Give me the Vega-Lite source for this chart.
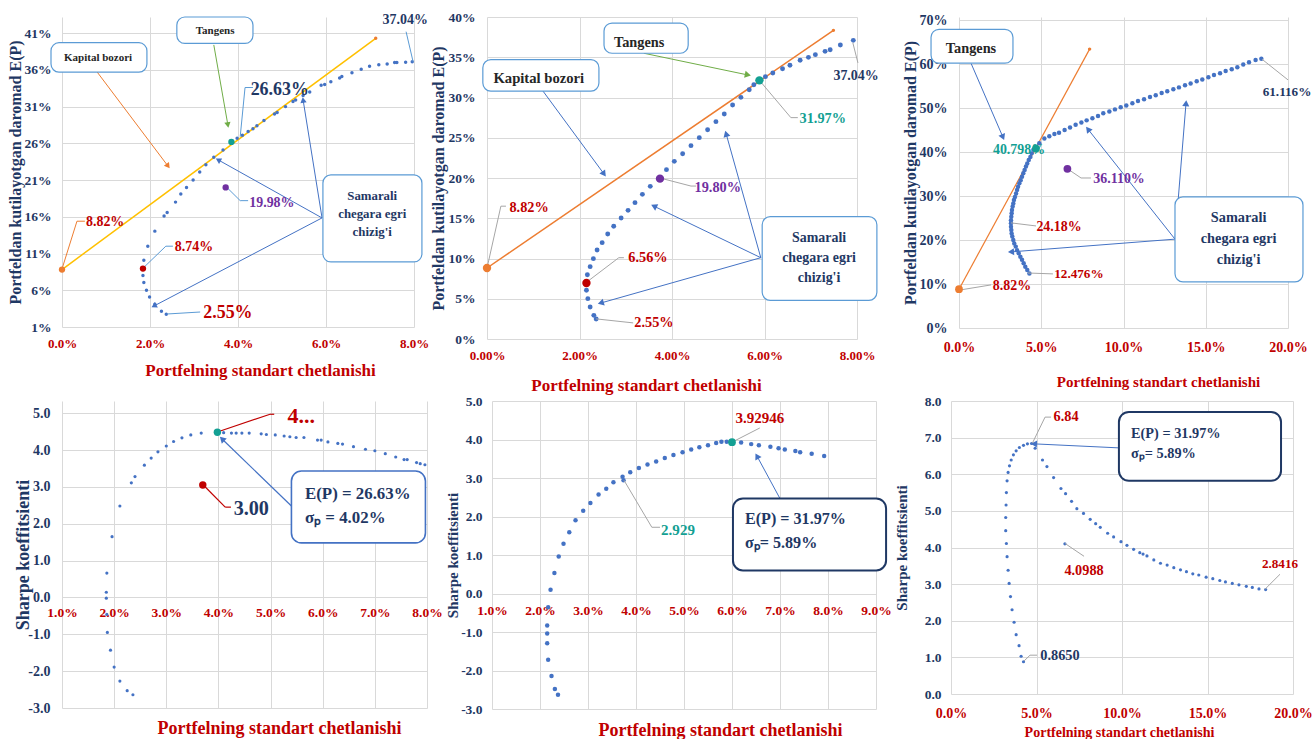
{
"$schema": "https://vega.github.io/schema/vega-lite/v6.json",
"padding": {"left": 7, "top": 10, "right": 0, "bottom": 0},
"background": "white",
"spacing": 1,
"config": {
  "font": "Liberation Serif",
  "view": {"stroke": null},
  "axis": {"grid": true, "gridColor": "#D9D9D9", "gridWidth": 1, "domain": false, "ticks": false, "labelFont": "Liberation Serif", "labelFontWeight": "bold", "titleFont": "Liberation Serif", "titleFontWeight": "bold", "labelOverlap": false, "labelBound": false, "labelFlush": false},
  "axisX": {"labelColor": "#C00000", "titleColor": "#C00000"},
  "axisY": {"labelColor": "#1F3864", "titleColor": "#1F3864"}
},
"datasets": {
"d1": [
{"k":"pt","x":2.37,"y":2.73},{"k":"pt","x":2.26,"y":3.14},{"k":"pt","x":2.11,"y":4.09},{"k":"pt","x":1.99,"y":5.09},{"k":"pt","x":1.92,"y":6.0},{"k":"pt","x":1.86,"y":7.05},{"k":"pt","x":1.84,"y":8.0},{"k":"pt","x":1.86,"y":10.1},{"k":"pt","x":1.95,"y":12.0},{"k":"pt","x":2.11,"y":14.05},{"k":"pt","x":2.32,"y":16.1},{"k":"pt","x":2.39,"y":16.6},{"k":"pt","x":2.58,"y":18.0},{"k":"pt","x":2.70,"y":19.1},{"k":"pt","x":2.83,"y":20.0},{"k":"pt","x":2.98,"y":21.0},{"k":"pt","x":3.13,"y":22.1},{"k":"pt","x":3.27,"y":23.1},{"k":"pt","x":3.45,"y":24.1},{"k":"pt","x":3.66,"y":25.1},{"k":"pt","x":3.98,"y":26.7},{"k":"pt","x":4.10,"y":27.1},{"k":"pt","x":4.23,"y":27.6},{"k":"pt","x":4.34,"y":28.0},{"k":"pt","x":4.43,"y":28.4},{"k":"pt","x":4.59,"y":29.1},{"k":"pt","x":4.83,"y":30.0},{"k":"pt","x":4.89,"y":30.2},{"k":"pt","x":5.08,"y":31.0},{"k":"pt","x":5.25,"y":31.7},{"k":"pt","x":5.31,"y":31.9},{"k":"pt","x":5.48,"y":32.5},{"k":"pt","x":5.63,"y":33.0},{"k":"pt","x":5.89,"y":33.9},{"k":"pt","x":5.97,"y":34.0},{"k":"pt","x":6.11,"y":34.4},{"k":"pt","x":6.31,"y":34.9},{"k":"pt","x":6.36,"y":35.1},{"k":"pt","x":6.59,"y":35.6},{"k":"pt","x":6.80,"y":36.1},{"k":"pt","x":6.99,"y":36.5},{"k":"pt","x":7.20,"y":36.7},{"k":"pt","x":7.39,"y":36.8},{"k":"pt","x":7.56,"y":37.0},{"k":"pt","x":7.61,"y":37.0},{"k":"pt","x":7.81,"y":37.05},{"k":"pt","x":7.96,"y":37.1},
{"k":"sp","x":1.84,"y":8.95,"c":"red"},{"k":"sp","x":3.72,"y":20.0,"c":"purple"},{"k":"sp","x":3.85,"y":26.2,"c":"teal"},{"k":"sp","x":0,"y":8.82,"c":"orange"},
{"k":"ln","x":0,"y":8.82},{"k":"ln","x":7.13,"y":40.3},
{"k":"bx","x":2.61,"x2":4.34,"y":39.6,"y2":43.2,"c":"lblue"},{"k":"bx","x":-0.25,"x2":1.93,"y":35.7,"y2":39.7,"c":"lblue"},{"k":"bx","x":5.93,"x2":8.18,"y":9.86,"y2":21.7,"c":"lblue"},
{"k":"tx","x":3.48,"y":41.3,"t":"Tangens","c":"dark","z":0},{"k":"tx","x":0.82,"y":37.6,"t":"Kapital bozori","c":"dark","z":0},
{"k":"tx","x":7.05,"y":18.85,"t":"Samarali","c":"navy","z":1},{"k":"tx","x":7.05,"y":16.4,"t":"chegara egri","c":"navy","z":1},{"k":"tx","x":7.05,"y":13.9,"t":"chizig'i","c":"navy","z":1},
{"k":"tx","x":4.95,"y":33.3,"t":"26.63%","c":"navy","z":3.8},{"k":"tx","x":7.8,"y":42.8,"t":"37.04%","c":"navy","z":1.6},{"k":"tx","x":0.98,"y":15.3,"t":"8.82%","c":"red","z":1.6},{"k":"tx","x":3.0,"y":11.9,"t":"8.74%","c":"red","z":1.6},{"k":"tx","x":4.77,"y":17.9,"t":"19.98%","c":"purple","z":1.6},{"k":"tx","x":3.77,"y":2.9,"t":"2.55%","c":"red","z":3.8},
{"k":"sg","x":4.05,"y":26.9,"x2":4.16,"y2":33.6,"c":"lblue"},{"k":"sg","x":4.16,"y":33.6,"x2":4.34,"y2":33.6,"c":"lblue"},{"k":"sg","x":7.98,"y":37.1,"x2":7.82,"y2":41.2,"c":"lblue"},{"k":"sg","x":0,"y":8.9,"x2":0.34,"y2":15.4,"c":"orange"},{"k":"sg","x":0.34,"y":15.4,"x2":0.52,"y2":15.4,"c":"orange"},{"k":"sg","x":1.84,"y":9.0,"x2":2.36,"y2":12.0,"c":"lblue"},{"k":"sg","x":2.36,"y":12.0,"x2":2.52,"y2":12.0,"c":"lblue"},{"k":"sg","x":3.73,"y":20.1,"x2":4.05,"y2":18.2,"c":"lblue"},{"k":"sg","x":4.05,"y":18.2,"x2":4.23,"y2":18.2,"c":"lblue"},{"k":"sg","x":2.39,"y":2.77,"x2":3.14,"y2":3.04,"c":"lblue"},
{"k":"sg","x":3.45,"y":39.4,"x2":3.77,"y2":28.5,"c":"green"},{"k":"sg","x":0.80,"y":35.7,"x2":2.41,"y2":22.9,"c":"orange"},{"k":"sg","x":5.91,"y":15.85,"x2":3.55,"y2":23.75,"c":"blue"},{"k":"sg","x":5.91,"y":15.85,"x2":5.48,"y2":31.9,"c":"blue"},{"k":"sg","x":5.91,"y":15.85,"x2":2.09,"y2":3.86,"c":"blue"},
{"k":"hd","x":3.77,"y":28.5,"a":170,"c":"green"},{"k":"hd","x":2.41,"y":22.9,"a":143,"c":"orange"},{"k":"hd","x":3.55,"y":23.75,"a":-61,"c":"blue"},{"k":"hd","x":5.48,"y":31.9,"a":-9,"c":"blue"},{"k":"hd","x":2.09,"y":3.86,"a":-118,"c":"blue"}
],
"d2": [
{"k":"pt","x":2.36,"y":2.48},{"k":"pt","x":2.31,"y":2.94},{"k":"pt","x":2.23,"y":3.98},{"k":"pt","x":2.18,"y":5.01},{"k":"pt","x":2.15,"y":6.05},{"k":"pt","x":2.17,"y":7.99},{"k":"pt","x":2.23,"y":8.99},{"k":"pt","x":2.30,"y":9.98},{"k":"pt","x":2.38,"y":11.06},{"k":"pt","x":2.49,"y":11.97},{"k":"pt","x":2.61,"y":13.04},{"k":"pt","x":2.74,"y":14.0},{"k":"pt","x":2.90,"y":15.03},{"k":"pt","x":3.05,"y":15.98},{"k":"pt","x":3.20,"y":16.94},{"k":"pt","x":3.36,"y":17.97},{"k":"pt","x":3.53,"y":18.96},{"k":"pt","x":3.88,"y":21.04},{"k":"pt","x":4.05,"y":22.07},{"k":"pt","x":4.23,"y":23.02},{"k":"pt","x":4.41,"y":24.02},{"k":"pt","x":4.59,"y":25.01},{"k":"pt","x":4.77,"y":26.0},{"k":"pt","x":4.95,"y":27.0},{"k":"pt","x":5.13,"y":27.95},{"k":"pt","x":5.31,"y":29.07},{"k":"pt","x":5.49,"y":30.02},{"k":"pt","x":5.67,"y":30.97},{"k":"pt","x":5.77,"y":31.59},{"k":"pt","x":6.02,"y":32.59},{"k":"pt","x":6.18,"y":33.04},{"k":"pt","x":6.39,"y":33.58},{"k":"pt","x":6.55,"y":34.0},{"k":"pt","x":6.77,"y":34.62},{"k":"pt","x":6.95,"y":34.99},{"k":"pt","x":7.10,"y":35.32},{"k":"pt","x":7.31,"y":35.73},{"k":"pt","x":7.42,"y":35.94},{"k":"pt","x":7.64,"y":36.52},{"k":"pt","x":7.92,"y":37.10},
{"k":"sp","x":2.15,"y":6.96,"c":"red"},{"k":"sp","x":3.74,"y":19.92,"c":"purple"},{"k":"sp","x":5.89,"y":32.13,"c":"teal"},{"k":"sp","x":0,"y":8.82,"c":"orange"},
{"k":"ln","x":0,"y":8.82},{"k":"ln","x":7.49,"y":38.34},
{"k":"bx","x":2.53,"x2":4.35,"y":35.5,"y2":39.25,"c":"lblue"},{"k":"bx","x":-0.09,"x2":2.42,"y":30.8,"y2":34.7,"c":"lblue"},{"k":"bx","x":5.95,"x2":8.43,"y":4.8,"y2":15.2,"c":"lblue"},
{"k":"tx","x":3.29,"y":36.8,"t":"Tangens","c":"dark","z":1.8},{"k":"tx","x":1.12,"y":32.3,"t":"Kapital bozori","c":"dark","z":2},
{"k":"tx","x":7.18,"y":12.5,"t":"Samarali","c":"navy","z":1.6},{"k":"tx","x":7.18,"y":10.1,"t":"chegara egri","c":"navy","z":1.6},{"k":"tx","x":7.18,"y":7.6,"t":"chizig'i","c":"navy","z":1.6},
{"k":"tx","x":7.98,"y":32.7,"t":"37.04%","c":"navy","z":1.6},{"k":"tx","x":7.26,"y":27.3,"t":"31.97%","c":"teal","z":1.8},{"k":"tx","x":4.99,"y":18.8,"t":"19.80%","c":"purple","z":1.8},{"k":"tx","x":0.91,"y":16.3,"t":"8.82%","c":"red","z":1.8},{"k":"tx","x":3.48,"y":10.1,"t":"6.56%","c":"red","z":1.8},{"k":"tx","x":3.61,"y":2.0,"t":"2.55%","c":"red","z":1.8},
{"k":"sg","x":7.91,"y":36.8,"x2":8.02,"y2":34.3,"c":"gray"},{"k":"sg","x":5.88,"y":32.2,"x2":6.57,"y2":27.5,"c":"gray"},{"k":"sg","x":6.57,"y":27.5,"x2":6.72,"y2":27.5,"c":"gray"},{"k":"sg","x":3.74,"y":20.0,"x2":4.41,"y2":19.0,"c":"gray"},{"k":"sg","x":4.41,"y":19.0,"x2":4.52,"y2":19.0,"c":"gray"},{"k":"sg","x":0,"y":8.8,"x2":0.30,"y2":16.5,"c":"gray"},{"k":"sg","x":0.30,"y":16.5,"x2":0.41,"y2":16.5,"c":"gray"},{"k":"sg","x":2.14,"y":7.0,"x2":2.85,"y2":10.1,"c":"gray"},{"k":"sg","x":2.85,"y":10.1,"x2":2.96,"y2":10.1,"c":"gray"},{"k":"sg","x":2.36,"y":2.5,"x2":3.16,"y2":2.0,"c":"gray"},
{"k":"sg","x":3.39,"y":35.5,"x2":5.64,"y2":32.8,"c":"green"},{"k":"sg","x":1.21,"y":30.8,"x2":2.53,"y2":20.5,"c":"blue"},{"k":"sg","x":5.92,"y":10.1,"x2":3.61,"y2":16.5,"c":"blue"},{"k":"sg","x":5.92,"y":10.1,"x2":5.17,"y2":25.5,"c":"blue"},{"k":"sg","x":5.92,"y":10.1,"x2":2.46,"y2":4.47,"c":"blue"},
{"k":"hd","x":5.64,"y":32.8,"a":102,"c":"green"},{"k":"hd","x":2.53,"y":20.5,"a":144,"c":"blue"},{"k":"hd","x":3.61,"y":16.5,"a":-64,"c":"blue"},{"k":"hd","x":5.17,"y":25.5,"a":-16,"c":"blue"},{"k":"hd","x":2.46,"y":4.47,"a":-106,"c":"blue"}
],
"d3": [
{"k":"pt","x":4.28,"y":12.4},{"k":"pt","x":4.15,"y":13.2},{"k":"pt","x":4.03,"y":13.9},{"k":"pt","x":3.93,"y":14.7},{"k":"pt","x":3.83,"y":15.5},{"k":"pt","x":3.73,"y":16.2},{"k":"pt","x":3.63,"y":17.0},{"k":"pt","x":3.53,"y":17.7},{"k":"pt","x":3.45,"y":18.5},{"k":"pt","x":3.36,"y":19.2},{"k":"pt","x":3.30,"y":20.0},{"k":"pt","x":3.24,"y":20.8},{"k":"pt","x":3.20,"y":21.5},{"k":"pt","x":3.18,"y":22.3},{"k":"pt","x":3.16,"y":23.0},{"k":"pt","x":3.16,"y":23.8},{"k":"pt","x":3.16,"y":24.5},{"k":"pt","x":3.18,"y":25.3},{"k":"pt","x":3.20,"y":26.1},{"k":"pt","x":3.22,"y":26.8},{"k":"pt","x":3.26,"y":27.6},{"k":"pt","x":3.30,"y":28.3},{"k":"pt","x":3.34,"y":29.1},{"k":"pt","x":3.40,"y":29.8},{"k":"pt","x":3.47,"y":30.6},{"k":"pt","x":3.53,"y":31.4},{"k":"pt","x":3.59,"y":32.1},{"k":"pt","x":3.67,"y":32.9},{"k":"pt","x":3.75,"y":33.6},{"k":"pt","x":3.83,"y":34.4},{"k":"pt","x":3.91,"y":35.2},{"k":"pt","x":3.99,"y":35.9},{"k":"pt","x":4.07,"y":36.7},{"k":"pt","x":4.15,"y":37.4},{"k":"pt","x":4.24,"y":38.2},{"k":"pt","x":4.34,"y":38.9},{"k":"pt","x":4.42,"y":39.7},{"k":"pt","x":4.52,"y":40.5},
{"k":"pt","x":4.88,"y":42.0},{"k":"pt","x":5.19,"y":43.1},{"k":"pt","x":5.49,"y":43.6},{"k":"pt","x":5.80,"y":44.1},{"k":"pt","x":6.08,"y":44.4},{"k":"pt","x":6.42,"y":45.0},{"k":"pt","x":6.75,"y":45.6},{"k":"pt","x":7.09,"y":46.2},{"k":"pt","x":7.44,"y":46.7},{"k":"pt","x":7.76,"y":47.2},{"k":"pt","x":8.11,"y":47.7},{"k":"pt","x":8.45,"y":48.2},{"k":"pt","x":8.77,"y":48.8},{"k":"pt","x":9.14,"y":49.2},{"k":"pt","x":9.48,"y":49.7},{"k":"pt","x":9.83,"y":50.2},{"k":"pt","x":10.17,"y":50.6},{"k":"pt","x":10.54,"y":51.1},{"k":"pt","x":10.88,"y":51.6},{"k":"pt","x":11.25,"y":52.0},{"k":"pt","x":11.61,"y":52.5},{"k":"pt","x":11.96,"y":52.9},{"k":"pt","x":12.32,"y":53.4},{"k":"pt","x":12.66,"y":53.8},{"k":"pt","x":13.03,"y":54.3},{"k":"pt","x":13.37,"y":54.7},{"k":"pt","x":13.74,"y":55.2},{"k":"pt","x":14.08,"y":55.6},{"k":"pt","x":14.45,"y":56.1},{"k":"pt","x":14.79,"y":56.5},{"k":"pt","x":15.16,"y":57.0},{"k":"pt","x":15.50,"y":57.5},{"k":"pt","x":15.87,"y":57.9},{"k":"pt","x":16.21,"y":58.4},{"k":"pt","x":16.58,"y":58.8},{"k":"pt","x":16.92,"y":59.3},{"k":"pt","x":17.28,"y":59.9},{"k":"pt","x":17.63,"y":60.4},{"k":"pt","x":18.03,"y":60.9},{"k":"pt","x":18.38,"y":61.2},
{"k":"sp","x":4.68,"y":40.8,"c":"teal"},{"k":"sp","x":6.59,"y":36.2,"c":"purple"},{"k":"sp","x":0,"y":8.82,"c":"orange"},
{"k":"ln","x":0,"y":8.82},{"k":"ln","x":7.94,"y":63.4},
{"k":"bx","x":-1.70,"x2":3.28,"y":60.2,"y2":67.9,"c":"lblue"},{"k":"bx","x":13.13,"x2":20.91,"y":10.5,"y2":29.8,"c":"lblue"},
{"k":"tx","x":0.73,"y":63.4,"t":"Tangens","c":"dark","z":1.8},{"k":"tx","x":3.65,"y":40.5,"t":"40.798%","c":"teal","z":1.6},{"k":"tx","x":9.73,"y":33.9,"t":"36.110%","c":"purple","z":1.6},{"k":"tx","x":6.08,"y":23.0,"t":"24.18%","c":"red","z":1.6},{"k":"tx","x":7.29,"y":12.3,"t":"12.476%","c":"red","z":1.2},{"k":"tx","x":3.22,"y":9.5,"t":"8.82%","c":"red","z":1.6},{"k":"tx","x":19.94,"y":53.6,"t":"61.116%","c":"navy","z":1.2},
{"k":"tx","x":17.0,"y":25.0,"t":"Samarali","c":"navy","z":1.8},{"k":"tx","x":17.0,"y":20.2,"t":"chegara egri","c":"navy","z":1.8},{"k":"tx","x":17.0,"y":15.45,"t":"chizig'i","c":"navy","z":1.8},
{"k":"sg","x":6.63,"y":36.1,"x2":7.42,"y2":34.1,"c":"gray"},{"k":"sg","x":7.42,"y":34.1,"x2":8.02,"y2":34.1,"c":"gray"},{"k":"sg","x":3.16,"y":23.9,"x2":4.68,"y2":23.2,"c":"gray"},{"k":"sg","x":4.19,"y":12.5,"x2":5.71,"y2":12.3,"c":"gray"},{"k":"sg","x":0,"y":8.6,"x2":1.95,"y2":9.8,"c":"gray"},{"k":"sg","x":18.42,"y":61.1,"x2":20.0,"y2":56.4,"c":"gray"},
{"k":"sg","x":0.73,"y":60.2,"x2":2.67,"y2":43.4,"c":"blue"},{"k":"sg","x":13.13,"y":20.2,"x2":7.84,"y2":45.2,"c":"blue"},{"k":"sg","x":13.13,"y":20.2,"x2":13.8,"y2":51.1,"c":"blue"},{"k":"sg","x":13.13,"y":20.2,"x2":3.16,"y2":17.3,"c":"blue"},
{"k":"hd","x":2.67,"y":43.4,"a":157,"c":"blue"},{"k":"hd","x":7.84,"y":45.2,"a":-38,"c":"blue"},{"k":"hd","x":13.8,"y":51.1,"a":5,"c":"blue"},{"k":"hd","x":3.16,"y":17.3,"a":-94,"c":"blue"}
],
"d4": [
{"k":"pt","x":2.36,"y":-2.64},{"k":"pt","x":2.25,"y":-2.53},{"k":"pt","x":2.11,"y":-2.27},{"k":"pt","x":2.0,"y":-1.89},{"k":"pt","x":1.93,"y":-1.43},{"k":"pt","x":1.87,"y":-0.95},{"k":"pt","x":1.86,"y":-0.46},{"k":"pt","x":1.85,"y":-0.02},{"k":"pt","x":1.85,"y":0.14},{"k":"pt","x":1.86,"y":0.66},{"k":"pt","x":1.96,"y":1.65},{"k":"pt","x":2.11,"y":2.48},{"k":"pt","x":2.33,"y":3.11},{"k":"pt","x":2.40,"y":3.28},{"k":"pt","x":2.58,"y":3.59},{"k":"pt","x":2.71,"y":3.78},{"k":"pt","x":2.84,"y":3.95},{"k":"pt","x":3.00,"y":4.11},{"k":"pt","x":3.14,"y":4.23},{"k":"pt","x":3.30,"y":4.33},{"k":"pt","x":3.47,"y":4.41},{"k":"pt","x":3.67,"y":4.46},{"k":"pt","x":4.10,"y":4.47},{"k":"pt","x":4.25,"y":4.46},{"k":"pt","x":4.34,"y":4.46},{"k":"pt","x":4.45,"y":4.46},{"k":"pt","x":4.59,"y":4.46},{"k":"pt","x":4.82,"y":4.44},{"k":"pt","x":4.92,"y":4.42},{"k":"pt","x":5.09,"y":4.41},{"k":"pt","x":5.26,"y":4.38},{"k":"pt","x":5.37,"y":4.36},{"k":"pt","x":5.49,"y":4.34},{"k":"pt","x":5.64,"y":4.34},{"k":"pt","x":5.90,"y":4.27},{"k":"pt","x":5.97,"y":4.27},{"k":"pt","x":6.10,"y":4.22},{"k":"pt","x":6.29,"y":4.18},{"k":"pt","x":6.38,"y":4.16},{"k":"pt","x":6.59,"y":4.09},{"k":"pt","x":6.82,"y":4.02},{"k":"pt","x":7.00,"y":3.98},{"k":"pt","x":7.20,"y":3.90},{"k":"pt","x":7.40,"y":3.81},{"k":"pt","x":7.56,"y":3.74},{"k":"pt","x":7.62,"y":3.74},{"k":"pt","x":7.80,"y":3.66},{"k":"pt","x":7.87,"y":3.63},{"k":"pt","x":7.96,"y":3.60},
{"k":"sp","x":3.98,"y":4.48,"c":"teal"},{"k":"sp","x":3.70,"y":3.05,"c":"red"},
{"k":"bx","x":5.40,"x2":7.97,"y":1.48,"y2":3.43,"c":"blue"},
{"k":"tx","x":5.59,"y":4.92,"t":"4...","c":"red","z":6},{"k":"tx","x":4.63,"y":2.40,"t":"3.00","c":"navy","z":5},
{"k":"tl","x":5.66,"y":2.80,"t":"E(P) = 26.63%","c":"navy","z":3.2},{"k":"tl","x":5.66,"y":2.15,"t":"σₚ = 4.02%","c":"navy","z":3.2},
{"k":"sg","x":3.98,"y":4.49,"x2":4.99,"y2":4.97,"c":"red"},{"k":"sg","x":4.99,"y":4.97,"x2":5.07,"y2":4.97,"c":"red"},{"k":"sg","x":3.71,"y":3.05,"x2":4.13,"y2":2.45,"c":"red"},{"k":"sg","x":4.13,"y":2.45,"x2":4.24,"y2":2.45,"c":"red"},
{"k":"sg","x":5.40,"y":2.48,"x2":4.07,"y2":4.30,"c":"blue"},
{"k":"hd","x":4.07,"y":4.30,"a":-46,"c":"blue"}
],
"d5": [
{"k":"pt","x":2.375,"y":-2.63},{"k":"pt","x":2.31,"y":-2.48},{"k":"pt","x":2.24,"y":-2.14},{"k":"pt","x":2.17,"y":-1.72},{"k":"pt","x":2.15,"y":-1.29},{"k":"pt","x":2.15,"y":-1.04},{"k":"pt","x":2.15,"y":-0.83},{"k":"pt","x":2.17,"y":-0.36},{"k":"pt","x":2.22,"y":0.10},{"k":"pt","x":2.30,"y":0.53},{"k":"pt","x":2.39,"y":0.96},{"k":"pt","x":2.49,"y":1.29},{"k":"pt","x":2.61,"y":1.59},{"k":"pt","x":2.74,"y":1.90},{"k":"pt","x":2.90,"y":2.15},{"k":"pt","x":3.05,"y":2.35},{"k":"pt","x":3.22,"y":2.57},{"k":"pt","x":3.38,"y":2.72},{"k":"pt","x":3.53,"y":2.89},{"k":"pt","x":3.72,"y":3.03},{"k":"pt","x":3.74,"y":2.94},{"k":"pt","x":3.88,"y":3.15},{"k":"pt","x":4.06,"y":3.26},{"k":"pt","x":4.24,"y":3.35},{"k":"pt","x":4.42,"y":3.43},{"k":"pt","x":4.60,"y":3.52},{"k":"pt","x":4.78,"y":3.60},{"k":"pt","x":4.97,"y":3.67},{"k":"pt","x":5.15,"y":3.74},{"k":"pt","x":5.32,"y":3.80},{"k":"pt","x":5.50,"y":3.85},{"k":"pt","x":5.67,"y":3.91},{"k":"pt","x":5.78,"y":3.94},{"k":"pt","x":5.89,"y":3.94},{"k":"pt","x":6.19,"y":3.92},{"k":"pt","x":6.40,"y":3.88},{"k":"pt","x":6.56,"y":3.85},{"k":"pt","x":6.80,"y":3.81},{"k":"pt","x":6.97,"y":3.77},{"k":"pt","x":7.10,"y":3.74},{"k":"pt","x":7.32,"y":3.70},{"k":"pt","x":7.42,"y":3.67},{"k":"pt","x":7.66,"y":3.63},{"k":"pt","x":7.92,"y":3.57},
{"k":"sp","x":6.0,"y":3.93,"c":"teal"},
{"k":"bx","x":6.02,"x2":9.21,"y":0.60,"y2":2.47,"c":"navy"},
{"k":"tx","x":6.58,"y":4.56,"t":"3.92946","c":"red","z":2.2},{"k":"tx","x":4.875,"y":1.66,"t":"2.929","c":"teal","z":2.2},
{"k":"tl","x":6.27,"y":1.93,"t":"E(P) = 31.97%","c":"navy","z":2.8},{"k":"tl","x":6.27,"y":1.30,"t":"σₚ= 5.89%","c":"navy","z":2.8},
{"k":"sg","x":6.0,"y":3.93,"x2":6.58,"y2":4.30,"c":"gray"},{"k":"sg","x":3.75,"y":2.94,"x2":4.33,"y2":1.72,"c":"gray"},{"k":"sg","x":4.33,"y":1.72,"x2":4.5,"y2":1.72,"c":"gray"},
{"k":"sg","x":7.35,"y":1.66,"x2":6.52,"y2":3.57,"c":"blue"},
{"k":"hd","x":6.52,"y":3.57,"a":-29,"c":"blue"}
],
"d6": [
{"k":"pt","x":4.24,"y":0.88},{"k":"pt","x":4.10,"y":1.03},{"k":"pt","x":3.98,"y":1.32},{"k":"pt","x":3.81,"y":1.62},{"k":"pt","x":3.69,"y":1.96},{"k":"pt","x":3.57,"y":2.30},{"k":"pt","x":3.48,"y":2.66},{"k":"pt","x":3.40,"y":3.02},{"k":"pt","x":3.34,"y":3.38},{"k":"pt","x":3.28,"y":3.75},{"k":"pt","x":3.24,"y":4.11},{"k":"pt","x":3.20,"y":4.46},{"k":"pt","x":3.20,"y":4.82},{"k":"pt","x":3.22,"y":5.16},{"k":"pt","x":3.24,"y":5.50},{"k":"pt","x":3.28,"y":5.82},{"k":"pt","x":3.34,"y":6.05},{"k":"pt","x":3.42,"y":6.23},{"k":"pt","x":3.52,"y":6.39},{"k":"pt","x":3.65,"y":6.53},{"k":"pt","x":3.81,"y":6.64},{"k":"pt","x":4.00,"y":6.73},{"k":"pt","x":4.24,"y":6.79},{"k":"pt","x":4.47,"y":6.83},{"k":"pt","x":4.71,"y":6.84},{"k":"pt","x":4.92,"y":6.71},{"k":"pt","x":5.35,"y":6.39},{"k":"pt","x":5.61,"y":6.21},{"k":"pt","x":6.0,"y":5.91},{"k":"pt","x":6.43,"y":5.61},{"k":"pt","x":6.70,"y":5.47},{"k":"pt","x":7.05,"y":5.26},{"k":"pt","x":7.36,"y":5.06},{"k":"pt","x":7.75,"y":4.93},{"k":"pt","x":8.14,"y":4.77},{"k":"pt","x":8.46,"y":4.65},{"k":"pt","x":8.73,"y":4.55},{"k":"pt","x":9.16,"y":4.39},{"k":"pt","x":9.51,"y":4.29},{"k":"pt","x":9.94,"y":4.16},{"k":"pt","x":10.29,"y":4.06},{"k":"pt","x":10.68,"y":3.95},{"k":"pt","x":11.04,"y":3.86},{"k":"pt","x":11.23,"y":3.82},{"k":"pt","x":11.46,"y":3.77},{"k":"pt","x":11.86,"y":3.66},{"k":"pt","x":12.25,"y":3.57},{"k":"pt","x":12.64,"y":3.52},{"k":"pt","x":13.03,"y":3.45},{"k":"pt","x":13.42,"y":3.39},{"k":"pt","x":13.77,"y":3.34},{"k":"pt","x":14.14,"y":3.28},{"k":"pt","x":14.49,"y":3.25},{"k":"pt","x":14.92,"y":3.19},{"k":"pt","x":15.31,"y":3.15},{"k":"pt","x":15.72,"y":3.10},{"k":"pt","x":16.05,"y":3.06},{"k":"pt","x":16.45,"y":3.02},{"k":"pt","x":16.84,"y":2.98},{"k":"pt","x":17.27,"y":2.94},{"k":"pt","x":17.62,"y":2.91},{"k":"pt","x":18.01,"y":2.87},{"k":"pt","x":18.40,"y":2.85},{"k":"pt","x":6.66,"y":4.10},
{"k":"bx","x":9.82,"x2":19.3,"y":5.82,"y2":7.70,"c":"navy"},
{"k":"tx","x":6.73,"y":7.56,"t":"6.84","c":"red","z":1.8},{"k":"tx","x":7.78,"y":3.37,"t":"4.0988","c":"red","z":1.8},{"k":"tx","x":19.24,"y":3.56,"t":"2.8416","c":"red","z":1.2},{"k":"tx","x":6.37,"y":1.03,"t":"0.8650","c":"navy","z":1.8},
{"k":"tl","x":10.53,"y":7.10,"t":"E(P) = 31.97%","c":"navy","z":1.8},{"k":"tl","x":10.53,"y":6.56,"t":"σₚ= 5.89%","c":"navy","z":1.8},
{"k":"sg","x":4.74,"y":6.83,"x2":5.50,"y2":7.56,"c":"gray"},{"k":"sg","x":5.50,"y":7.56,"x2":5.85,"y2":7.56,"c":"gray"},{"k":"sg","x":6.67,"y":4.11,"x2":7.78,"y2":3.76,"c":"gray"},{"k":"sg","x":18.36,"y":2.86,"x2":19.24,"y2":3.27,"c":"gray"},{"k":"sg","x":4.27,"y":0.90,"x2":4.62,"y2":1.06,"c":"gray"},{"k":"sg","x":4.62,"y":1.06,"x2":5.03,"y2":1.06,"c":"gray"},
{"k":"sg","x":9.82,"y":6.72,"x2":4.85,"y2":6.83,"c":"blue"},
{"k":"hd","x":4.85,"y":6.83,"a":-87,"c":"blue"}
]
},
"vconcat": [
{"spacing": 1, "hconcat": [
{"width": 352, "height": 310, "data": {"name": "d1"},
 "encoding": {
  "x": {"field": "x", "type": "quantitative", "scale": {"domain": [0, 8], "nice": false, "zero": false}, "axis": {"values": [0, 2, 4, 6, 8], "labelExpr": "format(datum.value,'.1f')+'%'", "labelFontSize": 13, "labelPadding": 10, "title": "Portfelning standart chetlanishi", "titleFontSize": 17, "titleX": 198, "titleY": 43, "titleBaseline": "middle"}},
  "y": {"field": "y", "type": "quantitative", "scale": {"domain": [1, 43.2], "nice": false, "zero": false}, "axis": {"values": [1, 6, 11, 16, 21, 26, 31, 36, 41], "labelExpr": "datum.value+'%'", "labelFontSize": 13.5, "labelPadding": 11, "title": "Portfeldan kutilayotgan daromad  E(P)", "titleFontSize": 16, "titleX": -47, "titleBaseline": "middle"}}
 },
 "layer": [
  {"transform": [{"filter": "datum.k==='ln'"}], "mark": {"type": "line", "color": "#FFC000", "strokeWidth": 1.5, "point": {"filled": true, "size": 12, "color": "#ED7D31"}}},
  {"transform": [{"filter": "datum.k==='pt'"}], "mark": {"type": "circle", "color": "#4472C4", "opacity": 1, "size": 12}},
  {"transform": [{"filter": "datum.k==='sg'"}], "mark": {"type": "rule", "strokeWidth": 1}, "encoding": {"x2": {"field": "x2"}, "y2": {"field": "y2"}, "color": {"field": "c", "type": "nominal", "scale": {"domain": ["blue","lblue","teal","red","purple","orange","gold","navy","green","gray","dark"], "range": ["#4472C4","#5B9BD5","#13A093","#C00000","#7030A0","#ED7D31","#FFC000","#1F3864","#70AD47","#A6A6A6","#262626"]}, "legend": null}}},
  {"transform": [{"filter": "datum.k==='hd'"}], "mark": {"type": "point", "shape": "triangle-up", "filled": true, "opacity": 1, "size": 40}, "encoding": {"color": {"field": "c", "type": "nominal", "scale": {"domain": ["blue","lblue","teal","red","purple","orange","gold","navy","green","gray","dark"], "range": ["#4472C4","#5B9BD5","#13A093","#C00000","#7030A0","#ED7D31","#FFC000","#1F3864","#70AD47","#A6A6A6","#262626"]}, "legend": null}, "angle": {"field": "a", "type": "quantitative", "scale": null}}},
  {"transform": [{"filter": "datum.k==='sp'"}], "mark": {"type": "circle", "opacity": 1, "size": 40}, "encoding": {"color": {"field": "c", "type": "nominal", "scale": {"domain": ["blue","lblue","teal","red","purple","orange","gold","navy","green","gray","dark"], "range": ["#4472C4","#5B9BD5","#13A093","#C00000","#7030A0","#ED7D31","#FFC000","#1F3864","#70AD47","#A6A6A6","#262626"]}, "legend": null}}},
  {"transform": [{"filter": "datum.k==='bx'"}], "mark": {"type": "rect", "fill": "white", "cornerRadius": 8, "strokeWidth": 1.2, "stroke": "#5B9BD5"}, "encoding": {"x2": {"field": "x2"}, "y2": {"field": "y2"}}},
  {"transform": [{"filter": "datum.k==='tx'"}], "mark": {"type": "text", "fontWeight": "bold", "font": "Liberation Serif"}, "encoding": {"text": {"field": "t"}, "color": {"field": "c", "type": "nominal", "scale": {"domain": ["blue","lblue","teal","red","purple","orange","gold","navy","green","gray","dark"], "range": ["#4472C4","#5B9BD5","#13A093","#C00000","#7030A0","#ED7D31","#FFC000","#1F3864","#70AD47","#A6A6A6","#262626"]}, "legend": null}, "size": {"field": "z", "type": "quantitative", "scale": {"domain": [0, 6], "range": [11, 22]}, "legend": null}}}
 ]
},
{"spacing": 23, "hconcat": [
{"width": 370, "height": 322, "data": {"name": "d2"},
 "encoding": {
  "x": {"field": "x", "type": "quantitative", "scale": {"domain": [0, 8], "nice": false, "zero": false}, "axis": {"values": [0, 2, 4, 6, 8], "labelExpr": "format(datum.value,'.2f')+'%'", "labelFontSize": 13, "labelPadding": 10, "title": "Portfelning standart chetlanishi", "titleFontSize": 17, "titleX": 159, "titleY": 46, "titleBaseline": "middle"}},
  "y": {"field": "y", "type": "quantitative", "scale": {"domain": [0, 40], "nice": false, "zero": false}, "axis": {"values": [0, 5, 10, 15, 20, 25, 30, 35, 40], "labelExpr": "datum.value+'%'", "labelFontSize": 13.5, "labelPadding": 12, "title": "Portfeldan kutilayotgan daromad  E(P)", "titleFontSize": 16, "titleX": -49, "titleBaseline": "middle"}}
 },
 "layer": [
  {"transform": [{"filter": "datum.k==='ln'"}], "mark": {"type": "line", "color": "#ED7D31", "strokeWidth": 1.5, "point": {"filled": true, "size": 12, "color": "#ED7D31"}}},
  {"transform": [{"filter": "datum.k==='pt'"}], "mark": {"type": "circle", "color": "#4472C4", "opacity": 1, "size": 24}},
  {"transform": [{"filter": "datum.k==='sg'"}], "mark": {"type": "rule", "strokeWidth": 1}, "encoding": {"x2": {"field": "x2"}, "y2": {"field": "y2"}, "color": {"field": "c", "type": "nominal", "scale": {"domain": ["blue","lblue","teal","red","purple","orange","gold","navy","green","gray","dark"], "range": ["#4472C4","#5B9BD5","#13A093","#C00000","#7030A0","#ED7D31","#FFC000","#1F3864","#70AD47","#A6A6A6","#262626"]}, "legend": null}}},
  {"transform": [{"filter": "datum.k==='hd'"}], "mark": {"type": "point", "shape": "triangle-up", "filled": true, "opacity": 1, "size": 50}, "encoding": {"color": {"field": "c", "type": "nominal", "scale": {"domain": ["blue","lblue","teal","red","purple","orange","gold","navy","green","gray","dark"], "range": ["#4472C4","#5B9BD5","#13A093","#C00000","#7030A0","#ED7D31","#FFC000","#1F3864","#70AD47","#A6A6A6","#262626"]}, "legend": null}, "angle": {"field": "a", "type": "quantitative", "scale": null}}},
  {"transform": [{"filter": "datum.k==='sp'"}], "mark": {"type": "circle", "opacity": 1, "size": 70}, "encoding": {"color": {"field": "c", "type": "nominal", "scale": {"domain": ["blue","lblue","teal","red","purple","orange","gold","navy","green","gray","dark"], "range": ["#4472C4","#5B9BD5","#13A093","#C00000","#7030A0","#ED7D31","#FFC000","#1F3864","#70AD47","#A6A6A6","#262626"]}, "legend": null}}},
  {"transform": [{"filter": "datum.k==='bx'"}], "mark": {"type": "rect", "fill": "white", "cornerRadius": 8, "strokeWidth": 1.2, "stroke": "#5B9BD5"}, "encoding": {"x2": {"field": "x2"}, "y2": {"field": "y2"}}},
  {"transform": [{"filter": "datum.k==='tx'"}], "mark": {"type": "text", "fontWeight": "bold", "font": "Liberation Serif"}, "encoding": {"text": {"field": "t"}, "color": {"field": "c", "type": "nominal", "scale": {"domain": ["blue","lblue","teal","red","purple","orange","gold","navy","green","gray","dark"], "range": ["#4472C4","#5B9BD5","#13A093","#C00000","#7030A0","#ED7D31","#FFC000","#1F3864","#70AD47","#A6A6A6","#262626"]}, "legend": null}, "size": {"field": "z", "type": "quantitative", "scale": {"domain": [0, 6], "range": [11, 22]}, "legend": null}}}
 ]
},
{"width": 329, "height": 311, "data": {"name": "d3"},
 "encoding": {
  "x": {"field": "x", "type": "quantitative", "scale": {"domain": [0, 20], "nice": false, "zero": false}, "axis": {"values": [0, 5, 10, 15, 20], "labelExpr": "format(datum.value,'.1f')+'%'", "labelFontSize": 14, "labelPadding": 12, "title": "Portfelning standart chetlanishi", "titleFontSize": 15, "titleX": 199, "titleY": 53, "titleBaseline": "middle"}},
  "y": {"field": "y", "type": "quantitative", "scale": {"domain": [0, 70.7], "nice": false, "zero": false}, "axis": {"values": [0, 10, 20, 30, 40, 50, 60, 70], "labelExpr": "datum.value+'%'", "labelFontSize": 14, "labelPadding": 12, "title": "Portfeldan kutilayotgan daromad  E(P)", "titleFontSize": 16, "titleX": -49, "titleBaseline": "middle"}}
 },
 "layer": [
  {"transform": [{"filter": "datum.k==='ln'"}], "mark": {"type": "line", "color": "#ED7D31", "strokeWidth": 1.2, "point": {"filled": true, "size": 12, "color": "#ED7D31"}}},
  {"transform": [{"filter": "datum.k==='pt'"}], "mark": {"type": "circle", "color": "#4472C4", "opacity": 1, "size": 20}},
  {"transform": [{"filter": "datum.k==='sg'"}], "mark": {"type": "rule", "strokeWidth": 1}, "encoding": {"x2": {"field": "x2"}, "y2": {"field": "y2"}, "color": {"field": "c", "type": "nominal", "scale": {"domain": ["blue","lblue","teal","red","purple","orange","gold","navy","green","gray","dark"], "range": ["#4472C4","#5B9BD5","#13A093","#C00000","#7030A0","#ED7D31","#FFC000","#1F3864","#70AD47","#A6A6A6","#262626"]}, "legend": null}}},
  {"transform": [{"filter": "datum.k==='hd'"}], "mark": {"type": "point", "shape": "triangle-up", "filled": true, "opacity": 1, "size": 50}, "encoding": {"color": {"field": "c", "type": "nominal", "scale": {"domain": ["blue","lblue","teal","red","purple","orange","gold","navy","green","gray","dark"], "range": ["#4472C4","#5B9BD5","#13A093","#C00000","#7030A0","#ED7D31","#FFC000","#1F3864","#70AD47","#A6A6A6","#262626"]}, "legend": null}, "angle": {"field": "a", "type": "quantitative", "scale": null}}},
  {"transform": [{"filter": "datum.k==='sp'"}], "mark": {"type": "circle", "opacity": 1, "size": 60}, "encoding": {"color": {"field": "c", "type": "nominal", "scale": {"domain": ["blue","lblue","teal","red","purple","orange","gold","navy","green","gray","dark"], "range": ["#4472C4","#5B9BD5","#13A093","#C00000","#7030A0","#ED7D31","#FFC000","#1F3864","#70AD47","#A6A6A6","#262626"]}, "legend": null}}},
  {"transform": [{"filter": "datum.k==='bx'"}], "mark": {"type": "rect", "fill": "white", "cornerRadius": 8, "strokeWidth": 1.2, "stroke": "#5B9BD5"}, "encoding": {"x2": {"field": "x2"}, "y2": {"field": "y2"}}},
  {"transform": [{"filter": "datum.k==='tx'"}], "mark": {"type": "text", "fontWeight": "bold", "font": "Liberation Serif"}, "encoding": {"text": {"field": "t"}, "color": {"field": "c", "type": "nominal", "scale": {"domain": ["blue","lblue","teal","red","purple","orange","gold","navy","green","gray","dark"], "range": ["#4472C4","#5B9BD5","#13A093","#C00000","#7030A0","#ED7D31","#FFC000","#1F3864","#70AD47","#A6A6A6","#262626"]}, "legend": null}, "size": {"field": "z", "type": "quantitative", "scale": {"domain": [0, 6], "range": [11, 22]}, "legend": null}}}
 ]
}
]}
]},
{"spacing": 2, "hconcat": [
{"width": 365, "height": 307, "data": {"name": "d4"},
 "encoding": {
  "x": {"field": "x", "type": "quantitative", "scale": {"domain": [1, 8], "nice": false, "zero": false}, "axis": {"values": [1, 2, 3, 4, 5, 6, 7, 8], "labelExpr": "format(datum.value,'.1f')+'%'", "labelFontSize": 13.5, "labelPadding": 8, "offset": -111, "title": "Portfelning standart chetlanishi", "titleFontSize": 18, "titleX": 217, "titleY": 131, "titleBaseline": "middle"}},
  "y": {"field": "y", "type": "quantitative", "scale": {"domain": [-3, 5.33], "nice": false, "zero": false}, "axis": {"values": [-3, -2, -1, 0, 1, 2, 3, 4, 5], "labelExpr": "(datum.value<0?'-':'')+format(abs(datum.value),'.1f')", "labelFontSize": 14, "labelPadding": 12, "title": "Sharpe koeffitsienti", "titleFontSize": 18, "titleX": -39, "titleBaseline": "middle"}}
 },
 "layer": [
  {"transform": [{"filter": "datum.k==='pt'"}], "mark": {"type": "circle", "color": "#4472C4", "opacity": 1, "size": 10}},
  {"transform": [{"filter": "datum.k==='sg'"}], "mark": {"type": "rule", "strokeWidth": 1.2}, "encoding": {"x2": {"field": "x2"}, "y2": {"field": "y2"}, "color": {"field": "c", "type": "nominal", "scale": {"domain": ["blue","lblue","teal","red","purple","orange","gold","navy","green","gray","dark"], "range": ["#4472C4","#5B9BD5","#13A093","#C00000","#7030A0","#ED7D31","#FFC000","#1F3864","#70AD47","#A6A6A6","#262626"]}, "legend": null}}},
  {"transform": [{"filter": "datum.k==='hd'"}], "mark": {"type": "point", "shape": "triangle-up", "filled": true, "opacity": 1, "size": 50}, "encoding": {"color": {"field": "c", "type": "nominal", "scale": {"domain": ["blue","lblue","teal","red","purple","orange","gold","navy","green","gray","dark"], "range": ["#4472C4","#5B9BD5","#13A093","#C00000","#7030A0","#ED7D31","#FFC000","#1F3864","#70AD47","#A6A6A6","#262626"]}, "legend": null}, "angle": {"field": "a", "type": "quantitative", "scale": null}}},
  {"transform": [{"filter": "datum.k==='sp'"}], "mark": {"type": "circle", "opacity": 1, "size": 55}, "encoding": {"color": {"field": "c", "type": "nominal", "scale": {"domain": ["blue","lblue","teal","red","purple","orange","gold","navy","green","gray","dark"], "range": ["#4472C4","#5B9BD5","#13A093","#C00000","#7030A0","#ED7D31","#FFC000","#1F3864","#70AD47","#A6A6A6","#262626"]}, "legend": null}}},
  {"transform": [{"filter": "datum.k==='bx'"}], "mark": {"type": "rect", "fill": "white", "cornerRadius": 10, "strokeWidth": 1.6, "stroke": "#4472C4"}, "encoding": {"x2": {"field": "x2"}, "y2": {"field": "y2"}}},
  {"transform": [{"filter": "datum.k==='tx'"}], "mark": {"type": "text", "fontWeight": "bold", "font": "Liberation Serif"}, "encoding": {"text": {"field": "t"}, "color": {"field": "c", "type": "nominal", "scale": {"domain": ["blue","lblue","teal","red","purple","orange","gold","navy","green","gray","dark"], "range": ["#4472C4","#5B9BD5","#13A093","#C00000","#7030A0","#ED7D31","#FFC000","#1F3864","#70AD47","#A6A6A6","#262626"]}, "legend": null}, "size": {"field": "z", "type": "quantitative", "scale": {"domain": [0, 6], "range": [11, 22]}, "legend": null}}},
  {"transform": [{"filter": "datum.k==='tl'"}], "mark": {"type": "text", "align": "left", "fontWeight": "bold", "font": "Liberation Serif"}, "encoding": {"text": {"field": "t"}, "color": {"field": "c", "type": "nominal", "scale": {"domain": ["blue","lblue","teal","red","purple","orange","gold","navy","green","gray","dark"], "range": ["#4472C4","#5B9BD5","#13A093","#C00000","#7030A0","#ED7D31","#FFC000","#1F3864","#70AD47","#A6A6A6","#262626"]}, "legend": null}, "size": {"field": "z", "type": "quantitative", "scale": {"domain": [0, 6], "range": [11, 22]}, "legend": null}}}
 ]
},
{"width": 384, "height": 308, "data": {"name": "d5"},
 "encoding": {
  "x": {"field": "x", "type": "quantitative", "scale": {"domain": [1, 9], "nice": false, "zero": false}, "axis": {"values": [1, 2, 3, 4, 5, 6, 7, 8, 9], "labelExpr": "format(datum.value,'.1f')+'%'", "labelFontSize": 13.5, "labelPadding": 9, "offset": -115, "title": "Portfelning standart chetlanishi", "titleFontSize": 18, "titleX": 228, "titleY": 136, "titleBaseline": "middle"}},
  "y": {"field": "y", "type": "quantitative", "scale": {"domain": [-3, 5], "nice": false, "zero": false}, "axis": {"values": [-3, -2, -1, 0, 1, 2, 3, 4, 5], "labelExpr": "(datum.value<0?'-':'')+format(abs(datum.value),'.1f')", "labelFontSize": 13.5, "labelPadding": 10, "title": "Sharpe koeffitsienti", "titleFontSize": 15, "titleX": -40, "titleBaseline": "middle"}}
 },
 "layer": [
  {"transform": [{"filter": "datum.k==='pt'"}], "mark": {"type": "circle", "color": "#4472C4", "opacity": 1, "size": 20}},
  {"transform": [{"filter": "datum.k==='sg'"}], "mark": {"type": "rule", "strokeWidth": 1}, "encoding": {"x2": {"field": "x2"}, "y2": {"field": "y2"}, "color": {"field": "c", "type": "nominal", "scale": {"domain": ["blue","lblue","teal","red","purple","orange","gold","navy","green","gray","dark"], "range": ["#4472C4","#5B9BD5","#13A093","#C00000","#7030A0","#ED7D31","#FFC000","#1F3864","#70AD47","#A6A6A6","#262626"]}, "legend": null}}},
  {"transform": [{"filter": "datum.k==='hd'"}], "mark": {"type": "point", "shape": "triangle-up", "filled": true, "opacity": 1, "size": 50}, "encoding": {"color": {"field": "c", "type": "nominal", "scale": {"domain": ["blue","lblue","teal","red","purple","orange","gold","navy","green","gray","dark"], "range": ["#4472C4","#5B9BD5","#13A093","#C00000","#7030A0","#ED7D31","#FFC000","#1F3864","#70AD47","#A6A6A6","#262626"]}, "legend": null}, "angle": {"field": "a", "type": "quantitative", "scale": null}}},
  {"transform": [{"filter": "datum.k==='sp'"}], "mark": {"type": "circle", "opacity": 1, "size": 60}, "encoding": {"color": {"field": "c", "type": "nominal", "scale": {"domain": ["blue","lblue","teal","red","purple","orange","gold","navy","green","gray","dark"], "range": ["#4472C4","#5B9BD5","#13A093","#C00000","#7030A0","#ED7D31","#FFC000","#1F3864","#70AD47","#A6A6A6","#262626"]}, "legend": null}}},
  {"transform": [{"filter": "datum.k==='bx'"}], "mark": {"type": "rect", "fill": "white", "cornerRadius": 10, "strokeWidth": 2, "stroke": "#1F3864"}, "encoding": {"x2": {"field": "x2"}, "y2": {"field": "y2"}}},
  {"transform": [{"filter": "datum.k==='tx'"}], "mark": {"type": "text", "fontWeight": "bold", "font": "Liberation Serif"}, "encoding": {"text": {"field": "t"}, "color": {"field": "c", "type": "nominal", "scale": {"domain": ["blue","lblue","teal","red","purple","orange","gold","navy","green","gray","dark"], "range": ["#4472C4","#5B9BD5","#13A093","#C00000","#7030A0","#ED7D31","#FFC000","#1F3864","#70AD47","#A6A6A6","#262626"]}, "legend": null}, "size": {"field": "z", "type": "quantitative", "scale": {"domain": [0, 6], "range": [11, 22]}, "legend": null}}},
  {"transform": [{"filter": "datum.k==='tl'"}], "mark": {"type": "text", "align": "left", "fontWeight": "bold", "font": "Liberation Serif"}, "encoding": {"text": {"field": "t"}, "color": {"field": "c", "type": "nominal", "scale": {"domain": ["blue","lblue","teal","red","purple","orange","gold","navy","green","gray","dark"], "range": ["#4472C4","#5B9BD5","#13A093","#C00000","#7030A0","#ED7D31","#FFC000","#1F3864","#70AD47","#A6A6A6","#262626"]}, "legend": null}, "size": {"field": "z", "type": "quantitative", "scale": {"domain": [0, 6], "range": [11, 22]}, "legend": null}}}
 ]
},
{"width": 342, "height": 293, "data": {"name": "d6"},
 "encoding": {
  "x": {"field": "x", "type": "quantitative", "scale": {"domain": [0, 20], "nice": false, "zero": false}, "axis": {"values": [0, 5, 10, 15, 20], "labelExpr": "format(datum.value,'.1f')+'%'", "labelFontSize": 14, "labelPadding": 12, "title": "Portfelning standart chetlanishi", "titleFontSize": 14, "titleX": 168, "titleY": 38, "titleBaseline": "middle"}},
  "y": {"field": "y", "type": "quantitative", "scale": {"domain": [0, 8], "nice": false, "zero": false}, "axis": {"values": [0, 1, 2, 3, 4, 5, 6, 7, 8], "labelExpr": "format(datum.value,'.1f')", "labelFontSize": 13.5, "labelPadding": 10, "title": "Sharpe koeffitsienti", "titleFontSize": 15, "titleX": -50, "titleBaseline": "middle"}}
 },
 "layer": [
  {"transform": [{"filter": "datum.k==='pt'"}], "mark": {"type": "circle", "color": "#4472C4", "opacity": 1, "size": 10}},
  {"transform": [{"filter": "datum.k==='sg'"}], "mark": {"type": "rule", "strokeWidth": 1}, "encoding": {"x2": {"field": "x2"}, "y2": {"field": "y2"}, "color": {"field": "c", "type": "nominal", "scale": {"domain": ["blue","lblue","teal","red","purple","orange","gold","navy","green","gray","dark"], "range": ["#4472C4","#5B9BD5","#13A093","#C00000","#7030A0","#ED7D31","#FFC000","#1F3864","#70AD47","#A6A6A6","#262626"]}, "legend": null}}},
  {"transform": [{"filter": "datum.k==='hd'"}], "mark": {"type": "point", "shape": "triangle-up", "filled": true, "opacity": 1, "size": 50}, "encoding": {"color": {"field": "c", "type": "nominal", "scale": {"domain": ["blue","lblue","teal","red","purple","orange","gold","navy","green","gray","dark"], "range": ["#4472C4","#5B9BD5","#13A093","#C00000","#7030A0","#ED7D31","#FFC000","#1F3864","#70AD47","#A6A6A6","#262626"]}, "legend": null}, "angle": {"field": "a", "type": "quantitative", "scale": null}}},
  {"transform": [{"filter": "datum.k==='bx'"}], "mark": {"type": "rect", "fill": "white", "cornerRadius": 10, "strokeWidth": 2, "stroke": "#1F3864"}, "encoding": {"x2": {"field": "x2"}, "y2": {"field": "y2"}}},
  {"transform": [{"filter": "datum.k==='tx'"}], "mark": {"type": "text", "fontWeight": "bold", "font": "Liberation Serif"}, "encoding": {"text": {"field": "t"}, "color": {"field": "c", "type": "nominal", "scale": {"domain": ["blue","lblue","teal","red","purple","orange","gold","navy","green","gray","dark"], "range": ["#4472C4","#5B9BD5","#13A093","#C00000","#7030A0","#ED7D31","#FFC000","#1F3864","#70AD47","#A6A6A6","#262626"]}, "legend": null}, "size": {"field": "z", "type": "quantitative", "scale": {"domain": [0, 6], "range": [11, 22]}, "legend": null}}},
  {"transform": [{"filter": "datum.k==='tl'"}], "mark": {"type": "text", "align": "left", "fontWeight": "bold", "font": "Liberation Serif"}, "encoding": {"text": {"field": "t"}, "color": {"field": "c", "type": "nominal", "scale": {"domain": ["blue","lblue","teal","red","purple","orange","gold","navy","green","gray","dark"], "range": ["#4472C4","#5B9BD5","#13A093","#C00000","#7030A0","#ED7D31","#FFC000","#1F3864","#70AD47","#A6A6A6","#262626"]}, "legend": null}, "size": {"field": "z", "type": "quantitative", "scale": {"domain": [0, 6], "range": [11, 22]}, "legend": null}}}
 ]
}
]}
]
}
